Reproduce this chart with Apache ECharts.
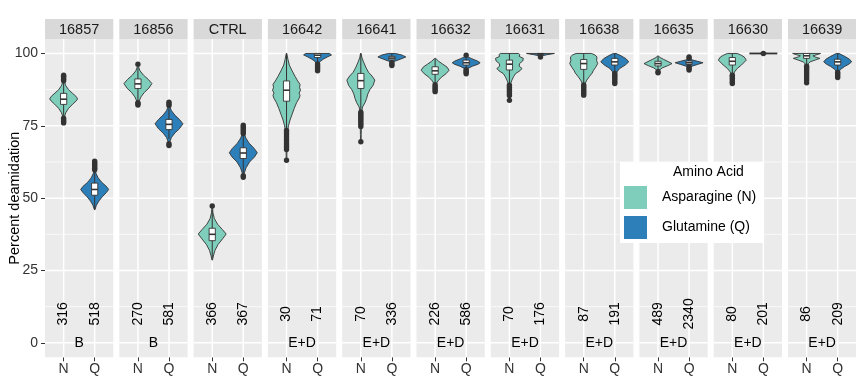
<!DOCTYPE html>
<html><head><meta charset="utf-8">
<script src="https://cdn.jsdelivr.net/npm/echarts@6.0.0/dist/echarts.min.js"></script>
<style>html,body{margin:0;padding:0;background:#fff}#c{width:856px;height:377px}</style>
</head><body><div id="c"></div>
<script>
// ---------------- data ----------------
const panels = ['16857','16856','CTRL','16642','16641','16632','16631','16638','16635','16630','16639'];
const groupLabels = ['B','B','','E+D','E+D','E+D','E+D','E+D','E+D','E+D','E+D'];
const aminoCodes = ['N','Q'];
const aminoNames = ['Asparagine (N)','Glutamine (Q)'];
const countsN = [316,270,366,30,70,226,70,87,489,80,86];
const countsQ = [518,581,367,71,336,586,176,191,2340,201,209];
const yTicks = [0,25,50,75,100];

// box stats: [lower whisker, q1, median, q3, upper whisker]
const boxN = [
  [78.5,82.4,84.2,86.2,90],
  [83.6,87.9,89.5,91.2,95.2],
  [29.2,35.3,37.5,39.6,45.8],
  [74,83.5,87.3,90.5,100],
  [80.3,87.9,90.6,93.1,100],
  [90,92.8,94,95.4,98.3],
  [89.3,94.3,96.3,97.7,100],
  [89.5,94.5,96.5,97.9,100],
  [94.1,95.7,96.5,97.3,99.1],
  [93,96,97.3,98.6,100],
  [96,98.3,99.2,100,100]
];
const boxQ = [
  [46,51,53,55.2,59.3],
  [70.5,73.7,75.5,77.2,81],
  [58.4,63.7,65.6,67.4,71.8],
  [96.8,98.6,99.4,100,100],
  [97.2,97.8,98.4,99.0,100],
  [94.8,96,96.8,97.7,98.9],
  [99.4,99.7,99.9,100,100],
  [93.6,96,97.1,98.3,100],
  [95.6,96.2,96.8,97.4,97.9],
  [100,100,100,100,100],
  [93.6,96,97.1,98,100]
];
// outliers
const outN = [
  [76,76.5,77,77.6,90.6,91.1,91.6,92.1,92.5],
  [82.2,82.6,83.0,96.3],
  [47.3],
  [63.1,66.8,67.6,68.3,69,69.8,70.5,71.2,72,72.8,73.4],
  [69.5,74.8,75.5,76.2,76.9,77.6,78.3,79,79.7],
  [86.8,87.4,88,88.6,89.2],
  [83.8,85.5,86.2,86.9,87.6,88.3,89],
  [85.6,86.2,86.8,87.4,88,88.6,89.1],
  [93.3,93.7],
  [89.6,90.2,90.8,91.4,92,92.5],
  [89.9,90.8,91.5,92.2,92.9,93.6,94.3,95,95.6]
];
const outQ = [
  [59.8,60.3,60.8,61.3,61.8,62.3,62.8],
  [68.2,68.8,82.0,82.6,83.2],
  [57.2,57.8,72.3,72.9,73.5,74.1,74.7,75.2],
  [94,94.6,95.2,95.8,96.4],
  [95.8,96.3,96.8],
  [93,93.5,94,94.4,99.4],
  [98.8],
  [89.6,90.2,90.8,91.4,92,92.6,93.1],
  [94.3,94.8,95.3,98.4,98.8],
  [100],
  [91.7,92.3,92.9,93.4]
];
// violin density profiles: [value, relative width]
const violinN = [
  [[76,0.02],[78,0.05],[79.5,0.15],[81,0.35],[82.5,0.65],[83.5,0.88],[84.3,1],[85.2,0.88],[86.3,0.62],[87.5,0.35],[89,0.14],[90.5,0.05],[92.5,0.02]],
  [[82.4,0.02],[83.5,0.08],[85,0.22],[86.5,0.45],[88,0.78],[89.6,1],[91,0.75],[92.5,0.4],[94,0.15],[95.3,0.05],[96.3,0.02]],
  [[28.6,0.02],[30,0.08],[32,0.2],[34,0.42],[36,0.75],[37.6,1],[39.2,0.72],[41,0.38],[43,0.15],[45,0.05],[47.3,0.02]],
  [[63.1,0.02],[66,0.03],[70,0.04],[73,0.07],[75,0.14],[77,0.25],[79,0.4],[81,0.55],[83,0.72],[84.5,0.9],[85.5,0.97],[86.3,0.9],[87.3,1],[88.3,0.93],[89.3,0.97],[90.5,0.8],[92,0.62],[94,0.4],[96,0.2],[98,0.1],[100,0.02]],
  [[69.5,0.02],[72,0.03],[75,0.04],[78,0.05],[80,0.07],[81.5,0.12],[83,0.3],[84.5,0.42],[86,0.5],[87.5,0.65],[89,0.88],[90.8,1],[92.2,0.8],[93.5,0.55],[95,0.38],[97,0.2],[98.5,0.08],[100,0.02]],
  [[86.7,0.02],[88,0.04],[89.5,0.08],[90.5,0.2],[91.8,0.45],[93,0.78],[94.2,1],[95.3,0.85],[96.3,0.55],[97.3,0.25],[98.3,0.03]],
  [[83.8,0.02],[86,0.03],[88,0.04],[89.5,0.08],[90.8,0.18],[92,0.3],[93.1,0.45],[94,0.75],[94.8,0.9],[95.6,0.7],[96.5,0.72],[97.4,0.95],[98.3,1],[99,0.7],[99.6,0.75],[100,0.65]],
  [[85.6,0.02],[87,0.03],[88.5,0.05],[89.6,0.1],[90.8,0.22],[92,0.4],[93.2,0.6],[94.2,0.7],[95.2,0.85],[96.5,1],[97.6,0.92],[98.8,0.95],[99.5,0.8],[100,0.55]],
  [[93.3,0.02],[94.2,0.08],[95,0.3],[95.8,0.7],[96.5,1],[97.2,0.72],[98,0.38],[98.6,0.15],[99.1,0.03]],
  [[89.6,0.02],[91,0.03],[92.5,0.06],[93.6,0.15],[94.8,0.35],[96,0.65],[97.7,1],[98.8,0.85],[99.5,0.6],[100,0.35]],
  [[89.9,0.02],[92,0.03],[94,0.04],[95.5,0.06],[96.5,0.12],[97.1,0.25],[97.7,0.6],[98.3,0.95],[98.8,0.6],[99.2,0.45],[99.6,0.75],[100,1]]
];
const violinQ = [
  [[46,0.02],[47.5,0.12],[49,0.3],[50.5,0.55],[52,0.85],[53,1],[54,0.85],[55.5,0.5],[57,0.25],[58.5,0.1],[60,0.05],[63,0.02]],
  [[68,0.02],[69.5,0.06],[71,0.18],[72.5,0.42],[74,0.75],[75.7,1],[77.2,0.75],[78.7,0.42],[80.2,0.18],[81.6,0.06],[83.3,0.02]],
  [[57.4,0.02],[58.5,0.06],[60.5,0.2],[62.5,0.45],[64.2,0.8],[65.7,1],[67.2,0.78],[69,0.42],[70.8,0.18],[72.5,0.06],[75.2,0.02]],
  [[94,0.02],[95.5,0.04],[96.5,0.08],[97.3,0.2],[98,0.4],[98.8,0.7],[99.5,1],[100,0.85]],
  [[95.8,0.02],[96.6,0.05],[97.3,0.2],[98,0.6],[98.8,1],[99.5,0.7],[100,0.25]],
  [[93,0.02],[94,0.04],[94.8,0.12],[95.6,0.45],[96.3,0.85],[96.8,1],[97.4,0.8],[98.2,0.4],[98.8,0.12],[99.4,0.02]],
  [[98.8,0.02],[99.2,0.1],[99.6,0.5],[100,1]],
  [[89.6,0.02],[91,0.04],[92.5,0.08],[93.6,0.15],[94.8,0.35],[96,0.75],[97.1,1],[98.2,0.8],[99.2,0.45],[100,0.1]],
  [[94.3,0.02],[95,0.05],[95.6,0.2],[96.2,0.6],[96.8,1],[97.3,0.6],[97.8,0.2],[98.3,0.03]],
  [[100,1]],
  [[91.7,0.02],[93,0.04],[93.6,0.08],[94.5,0.2],[95.5,0.5],[96.3,0.8],[97.1,1],[98,0.85],[99,0.5],[100,0.1]]
];

// ---------------- style / layout ----------------
const FONT = '"Liberation Sans", Arial, Helvetica, sans-serif';
const fillColors = ['#7FCDBB', '#2C7FB8'];
const L0 = 45, PITCH = 74.3, PW = 68.3, PT = 39, PH = 318.3;
const HALF = 0.45, BOXW = 0.2, COUNT_Y = 10, YMIN = -5, YMAX = 105, XMIN = 0.4, XMAX = 2.6;
const minorY = yTicks.slice(1).map((t, j) => (t + yTicks[j]) / 2);

function gridItem(i) {
  return function (params, api) {
    const ch = [];
    minorY.forEach(v => {
      const a = api.coord([XMIN, v]), b = api.coord([XMAX, v]);
      ch.push({type:'line', shape:{x1:a[0],y1:a[1],x2:b[0],y2:b[1]}, style:{stroke:'#fff', lineWidth:0.7}});
    });
    yTicks.forEach(v => {
      const a = api.coord([XMIN, v]), b = api.coord([XMAX, v]);
      ch.push({type:'line', shape:{x1:a[0],y1:a[1],x2:b[0],y2:b[1]}, style:{stroke:'#fff', lineWidth:1.5}});
    });
    [1, 2].forEach(x => {
      const a = api.coord([x, YMIN]), b = api.coord([x, YMAX]);
      ch.push({type:'line', shape:{x1:a[0],y1:a[1],x2:b[0],y2:b[1]}, style:{stroke:'#fff', lineWidth:1.5}});
    });
    if (groupLabels[i]) {
      const t = api.coord([1.5, 0]);
      ch.push({type:'text', x:t[0], y:t[1], style:{text:groupLabels[i], align:'center', verticalAlign:'middle', fontSize:14, fontFamily:FONT, fill:'#000'}});
    }
    return {type:'group', children:ch};
  };
}

function violinItem(i) {
  return function (params, api) {
    const x = api.value(0);
    const k = x === 1 ? 0 : 1;
    const prof = (k === 0 ? violinN : violinQ)[i];
    const box = (k === 0 ? boxN : boxQ)[i];
    const outs = (k === 0 ? outN : outQ)[i];
    const cnt = (k === 0 ? countsN : countsQ)[i];
    const ch = [];
    if (prof.length > 1) {
      const right = prof.map(([v, w]) => api.coord([x + w * HALF, v]));
      const left = prof.slice().reverse().map(([v, w]) => api.coord([x - w * HALF, v]));
      ch.push({type:'polygon', shape:{points:right.concat(left)}, style:{fill:fillColors[k], stroke:'#333', lineWidth:0.9}});
    } else {
      const v = prof[0][0];
      const a = api.coord([x - HALF, v]), b = api.coord([x + HALF, v]);
      ch.push({type:'line', shape:{x1:a[0],y1:a[1],x2:b[0],y2:b[1]}, style:{stroke:'#333', lineWidth:1.8}});
    }
    const wl = api.coord([x, box[0]]), wh = api.coord([x, box[4]]);
    ch.push({type:'line', shape:{x1:wl[0],y1:wl[1],x2:wh[0],y2:wh[1]}, style:{stroke:'#333', lineWidth:1}});
    const b1 = api.coord([x - BOXW / 2, box[3]]), b2 = api.coord([x + BOXW / 2, box[1]]);
    ch.push({type:'rect', shape:{x:b1[0], y:b1[1], width:b2[0] - b1[0], height:b2[1] - b1[1]}, style:{fill:'#fff', stroke:'#333', lineWidth:0.9}});
    const m1 = api.coord([x - BOXW / 2, box[2]]), m2 = api.coord([x + BOXW / 2, box[2]]);
    ch.push({type:'line', shape:{x1:m1[0],y1:m1[1],x2:m2[0],y2:m2[1]}, style:{stroke:'#333', lineWidth:1.6}});
    outs.forEach(v => {
      const c = api.coord([x, v]);
      ch.push({type:'circle', shape:{cx:c[0], cy:c[1], r:2.7}, style:{fill:'#333'}});
    });
    const t = api.coord([x, COUNT_Y]);
    ch.push({type:'text', x:t[0], y:t[1], rotation:Math.PI / 2, style:{text:String(cnt), align:'center', verticalAlign:'middle', fontSize:14, fontFamily:FONT, fill:'#000'}});
    return {type:'group', children:ch};
  };
}

const grids = [], xAxes = [], yAxes = [], series = [], graphics = [];
panels.forEach((name, i) => {
  const left = L0 + i * PITCH;
  grids.push({left:left, top:PT, width:PW, height:PH, show:true, backgroundColor:'#EBEBEB', borderWidth:0, outerBoundsMode:'none', containLabel:false});
  xAxes.push({
    gridIndex:i, type:'value', min:XMIN, max:XMAX, position:'bottom',
    axisLine:{show:false, onZero:false}, splitLine:{show:false}, minorTick:{show:false},
    axisTick:{show:true, customValues:[1, 2], length:4, lineStyle:{color:'#333', width:1}},
    axisLabel:{show:true, customValues:[1, 2], formatter:v => aminoCodes[Math.round(v) - 1], margin:5, fontSize:14, color:'#333', fontFamily:FONT}
  });
  yAxes.push({
    gridIndex:i, type:'value', min:YMIN, max:YMAX, position:'left',
    axisLine:{show:false, onZero:false}, splitLine:{show:false}, minorTick:{show:false},
    axisTick:{show:i === 0, customValues:yTicks, length:4, lineStyle:{color:'#333', width:1}},
    axisLabel:{show:i === 0, customValues:yTicks, margin:7, fontSize:14, color:'#333', fontFamily:FONT},
    name:i === 0 ? 'Percent deamidation' : '', nameLocation:'middle', nameGap:23, nameMoveOverlap:false,
    nameTextStyle:{fontSize:14.5, color:'#000', fontFamily:FONT}
  });
  series.push({type:'custom', xAxisIndex:i, yAxisIndex:i, silent:true, z:1, data:[[1.5, 0]], renderItem:gridItem(i)});
  series.push({type:'custom', xAxisIndex:i, yAxisIndex:i, silent:true, z:3,
    data:[[1, boxN[i][2]], [2, boxQ[i][2]]], renderItem:violinItem(i)});
  graphics.push({type:'rect', shape:{x:left, y:19, width:PW, height:20}, style:{fill:'#D9D9D9'}, silent:true});
  graphics.push({type:'text', x:left + PW / 2, y:29.5, style:{text:name, align:'center', verticalAlign:'middle', fontSize:14.5, fontFamily:FONT, fill:'#1A1A1A'}, silent:true});
});

// legend
graphics.push({type:'rect', shape:{x:620, y:162, width:143, height:81}, style:{fill:'#fff'}, z:100});
graphics.push({type:'text', x:673, y:172, style:{text:'Amino Acid', align:'left', verticalAlign:'middle', fontSize:14, fontFamily:FONT, fill:'#000'}, z:101});
aminoNames.forEach((nm, k) => {
  graphics.push({type:'rect', shape:{x:624, y:186 + k * 30, width:23, height:23}, style:{fill:fillColors[k]}, z:101});
  graphics.push({type:'text', x:662, y:197 + k * 30, style:{text:nm, align:'left', verticalAlign:'middle', fontSize:14, fontFamily:FONT, fill:'#000'}, z:101});
});

const chart = echarts.init(document.getElementById('c'), null, {renderer:'canvas'});
chart.setOption({
  animation:false,
  backgroundColor:'#fff',
  grid:grids, xAxis:xAxes, yAxis:yAxes, series:series, graphic:graphics
});
</script>
</body></html>
